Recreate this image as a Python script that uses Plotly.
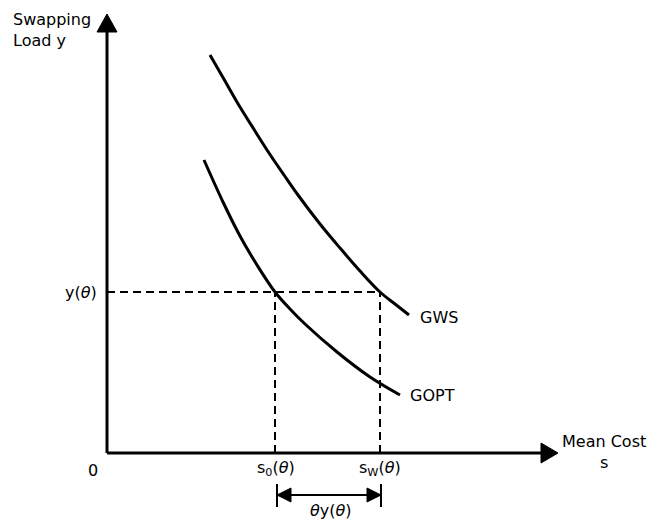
import plotly.graph_objects as go

# ---- data (chart units: origin of the axes at 0,0) ----
gws_s = [103, 118, 133, 148, 162, 177, 191, 213, 233, 253, 273, 288, 302]
gws_y = [398, 372, 346, 322, 300, 278, 258, 229, 205, 182, 161, 149, 138]
gopt_s = [97, 116, 133, 150, 168, 183, 198, 230, 263, 293]
gopt_y = [293, 251, 217, 188, 161, 144, 129, 101, 76, 58]

y_theta = 161      # y(theta)
s_0 = 168          # s0(theta)
s_w = 273          # sW(theta)

x_axis_end = 451
y_axis_end = 439

BLACK = "#000000"
FONT = "DejaVu Sans, Verdana, sans-serif"

fig = go.Figure()

def line(xs, ys, width=3, dash="solid"):
    fig.add_trace(go.Scatter(x=xs, y=ys, mode="lines",
                             line=dict(color=BLACK, width=width, dash=dash),
                             hoverinfo="skip", showlegend=False))

def tri(xs, ys):
    fig.add_trace(go.Scatter(x=xs + [xs[0]], y=ys + [ys[0]], mode="lines",
                             fill="toself", fillcolor=BLACK,
                             line=dict(color=BLACK, width=1),
                             hoverinfo="skip", showlegend=False))

# axes
line([0, 0], [0, y_axis_end - 12])
line([0, x_axis_end - 12], [0, 0])
tri([0, -10, 10], [y_axis_end, y_axis_end - 18, y_axis_end - 18])
tri([x_axis_end, x_axis_end - 17, x_axis_end - 17], [0, 10, -10])

# curves
fig.add_trace(go.Scatter(x=gws_s, y=gws_y, mode="lines",
                         line=dict(color=BLACK, width=3, shape="spline", smoothing=1.0),
                         hoverinfo="skip", showlegend=False))
fig.add_trace(go.Scatter(x=gopt_s, y=gopt_y, mode="lines",
                         line=dict(color=BLACK, width=3, shape="spline", smoothing=1.0),
                         hoverinfo="skip", showlegend=False))

# dashed guides
line([0, s_w], [y_theta, y_theta], width=2, dash="8px,5px")
line([s_0, s_0], [0, y_theta], width=2, dash="8px,5px")
line([s_w, s_w], [0, y_theta], width=2, dash="8px,5px")

# double arrow theta*y(theta)
arr_y = -42
line([s_0 + 2, s_w], [arr_y, arr_y], width=2)
line([s_0 + 2, s_0 + 2], [arr_y + 11, arr_y - 12], width=2)
line([s_w + 1, s_w + 1], [arr_y + 11, arr_y - 12], width=2)
tri([s_0 + 2, s_0 + 16, s_0 + 16], [arr_y, arr_y + 7, arr_y - 7])
tri([s_w + 1, s_w - 13, s_w - 13], [arr_y, arr_y + 7, arr_y - 7])

def txt(x, y, text, xanchor="center", align="center", size=16):
    fig.add_annotation(x=x, y=y, text=text, showarrow=False, xanchor=xanchor,
                       yanchor="middle", align=align,
                       font=dict(family=FONT, size=size, color=BLACK))

txt(-96, 423, "Swapping<br>Load y", xanchor="left", align="left")
txt(497, 1, "Mean Cost<br>s")
txt(-14, -17, "0")
txt(-8, y_theta, "y(<i>θ</i>)", xanchor="right")
txt(311, 136, "GWS", xanchor="left")
txt(301, 58, "GOPT", xanchor="left")
txt(s_0 + 1, -15, "s<sub>0</sub>(<i>θ</i>)")
txt(s_w, -15, "s<sub>W</sub>(<i>θ</i>)")
txt((s_0 + s_w) / 2 + 3, -57, "<i>θ</i>y(<i>θ</i>)")

fig.update_layout(
    width=656, height=519,
    margin=dict(l=0, r=0, t=0, b=0),
    paper_bgcolor="white", plot_bgcolor="white",
    xaxis=dict(range=[-107, 549], visible=False, fixedrange=True),
    yaxis=dict(range=[-66, 453], visible=False, fixedrange=True),
    showlegend=False,
)

fig.write_html("out.html")
